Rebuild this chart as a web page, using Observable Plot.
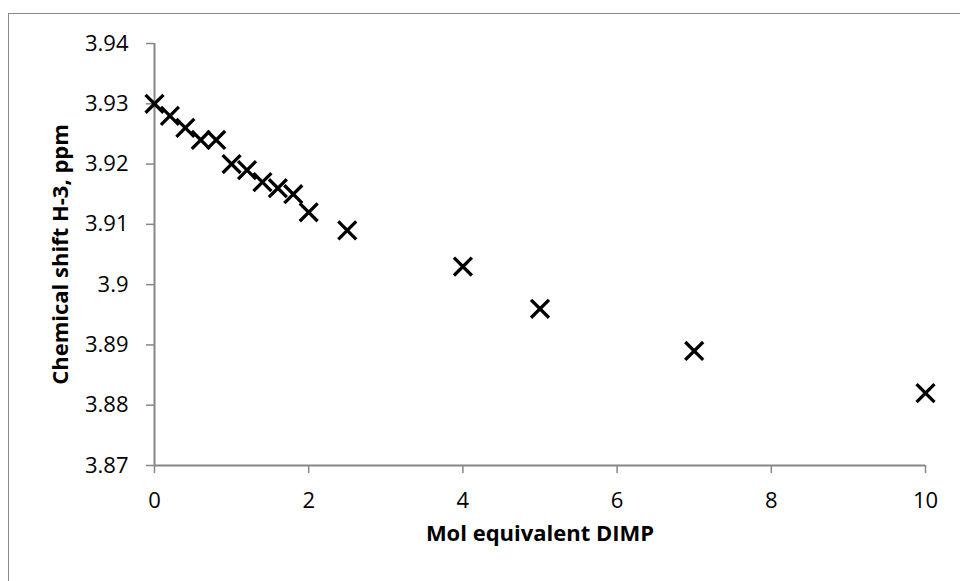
<!DOCTYPE html>
<html><head><meta charset="utf-8">
<script src="https://cdn.jsdelivr.net/npm/d3@7"></script>
<script src="https://cdn.jsdelivr.net/npm/@observablehq/plot@0.6"></script>
<style>
html,body{margin:0;padding:0;background:#fff;}
#wrap{position:relative;width:960px;height:581px;overflow:hidden;}
#border{position:absolute;left:8px;top:13px;width:1000px;height:1000px;border-left:1px solid #898989;border-top:1px solid #898989;pointer-events:none;}
</style></head><body>
<div id="wrap"><div id="chart"></div><div id="border"></div></div>
<script>
const molEq = [0, 0.2, 0.4, 0.6, 0.8, 1.0, 1.2, 1.4, 1.6, 1.8, 2.0, 2.5, 4, 5, 7, 10];
const shift = [3.930, 3.928, 3.926, 3.924, 3.924, 3.920, 3.919, 3.917, 3.916, 3.915, 3.912, 3.909, 3.903, 3.896, 3.889, 3.882];
const xTicks = [0, 2, 4, 6, 8, 10];
const yTicks = [3.87, 3.88, 3.89, 3.90, 3.91, 3.92, 3.93, 3.94];
const xLabel = "Mol equivalent DIMP";
const yLabel = "Chemical shift H-3, ppm";

const data = molEq.map((x, i) => ({x, y: shift[i]}));
const axisColor = "#868686";

const chart = Plot.plot({
  width: 960, height: 581,
  marginLeft: 154, marginRight: 35, marginTop: 43, marginBottom: 116,
  style: {fontFamily: "'Open Sans', sans-serif", fontSize: "22px", color: "#000", background: "#fff"},
  x: {domain: [0, 10]},
  y: {domain: [3.87, 3.94]},
  marks: [
    Plot.axisX(xTicks, {tickSize: 8, tickPadding: 19, stroke: axisColor, fill: "#000", strokeWidth: 1.5, label: null, fontSize: 22}),
    Plot.axisY(yTicks, {tickSize: 8, tickPadding: 18, stroke: axisColor, fill: "#000", strokeWidth: 1.5, label: null, fontSize: 22,
      tickFormat: d => String(+d.toFixed(2))}),
    Plot.ruleY([3.87], {stroke: axisColor, strokeWidth: 2}),
    Plot.ruleX([0], {stroke: axisColor, strokeWidth: 2}),
    Plot.text([xLabel], {text: d => d, frameAnchor: "bottom", dy: 75, textAnchor: "middle", fontWeight: "bold", fontSize: 22, fill: "#000"}),
    Plot.text([yLabel], {text: d => d, frameAnchor: "left", dx: -94, rotate: -90, textAnchor: "middle", fontWeight: "bold", fontSize: 22, fill: "#000"}),
    Plot.dot(data, {x: "x", y: "y", symbol: "times", r: 8.2, stroke: "#000", strokeWidth: 3.3})
  ]
});
document.getElementById("chart").appendChild(chart);
</script>
</body></html>
